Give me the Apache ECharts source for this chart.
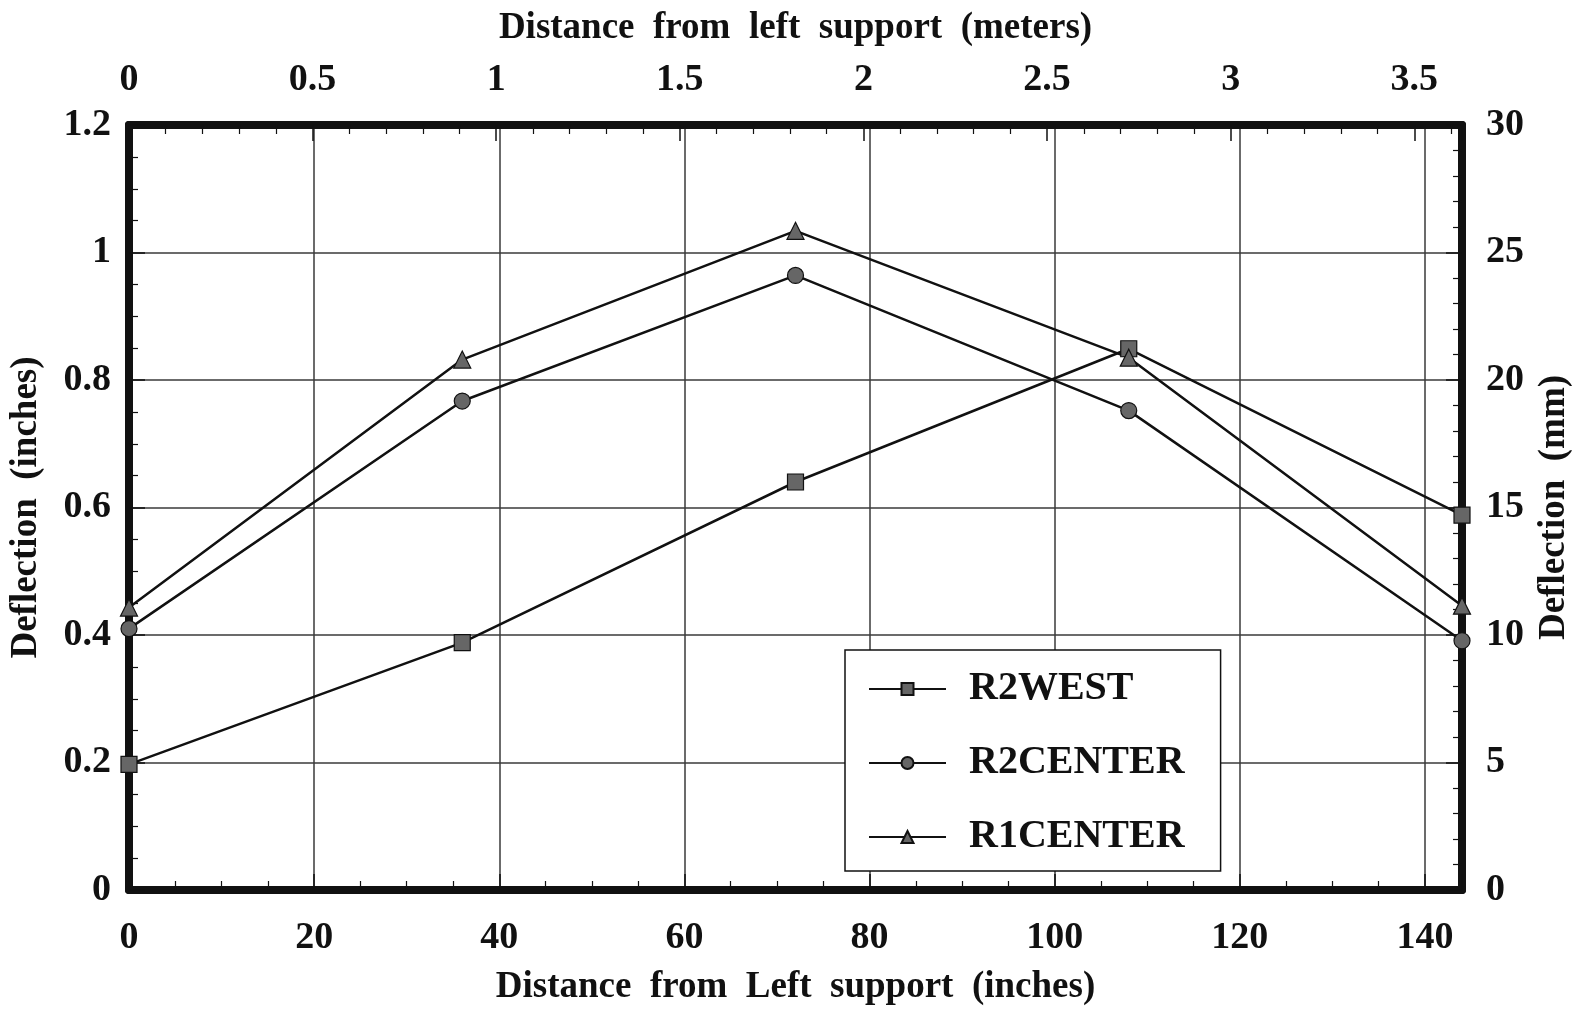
<!DOCTYPE html>
<html>
<head>
<meta charset="utf-8">
<script src="https://cdn.jsdelivr.net/npm/echarts@6/dist/echarts.min.js"></script>
<style>
  html, body { margin: 0; padding: 0; background: #fff; }
  #chart { width: 1581px; height: 1011px; }
</style>
</head>
<body>
<div id="chart"></div>
<script>
// Distance from the left support (inches) for each gauge position
const positions = [0, 36, 72, 108, 144];

// Measured deflections (inches)
const r2West   = [0.197, 0.388, 0.640, 0.849, 0.588];
const r2Center = [0.410, 0.767, 0.964, 0.752, 0.391];
const r1Center = [0.443, 0.832, 1.034, 0.835, 0.446];

const seriesNames = ['R2WEST', 'R2CENTER', 'R1CENTER'];
const seriesSymbols = ['rect', 'circle', 'triangle'];

const FONT = '"Liberation Serif", "Times New Roman", serif';

const pair = (ys) => positions.map((x, i) => [x, ys[i]]);

const tickLabel = { fontFamily: FONT, fontWeight: 'bold', fontSize: 38, color: '#111' };
const nameStyle = { fontFamily: FONT, fontWeight: 'bold', fontSize: 37, color: '#111' };
const frameLine = { show: true, onZero: false, lineStyle: { color: '#111', width: 8 } };
const gridLine = { show: true, lineStyle: { color: '#3a3a3a', width: 1.5 } };
const majorTick = { show: true, inside: true, length: 16, lineStyle: { color: '#111', width: 1.5 } };

function minor(n) {
  return { show: true, splitNumber: n, length: 9, lineStyle: { color: '#111', width: 1.2 } };
}

function makeSeries(name, ys, symbol) {
  return {
    name: name,
    type: 'line',
    data: pair(ys),
    symbol: symbol,
    symbolSize: symbol === 'triangle' ? 17 : 16,
    lineStyle: { color: '#111', width: 2.5 },
    itemStyle: { color: '#666', borderColor: '#111', borderWidth: 1.2 },
    xAxisIndex: 0,
    yAxisIndex: 0,
    z: 5
  };
}

const chart = echarts.init(document.getElementById('chart'), null, { renderer: 'canvas' });

chart.setOption({
  backgroundColor: '#fff',
  animation: false,
  grid: { left: 129, right: 115, top: 125, bottom: 120, containLabel: false },
  xAxis: [
    {
      type: 'value', position: 'bottom', min: 0, max: 144, interval: 20,
      name: 'Distance  from  Left  support  (inches)', nameLocation: 'middle', nameGap: 79,
      nameTextStyle: nameStyle,
      axisLine: frameLine,
      axisTick: majorTick,
      minorTick: minor(4),
      splitLine: gridLine,
      axisLabel: {
        ...tickLabel, margin: 29,
        formatter: (v) => (v % 20 === 0 ? String(v) : '')
      }
    },
    {
      type: 'value', position: 'top', min: 0, max: 3.63, interval: 0.5,
      name: 'Distance  from  left  support  (meters)', nameLocation: 'middle', nameGap: 78,
      nameTextStyle: nameStyle,
      axisLine: frameLine,
      axisTick: majorTick,
      minorTick: minor(5),
      splitLine: { show: false },
      axisLabel: {
        ...tickLabel, margin: 26,
        formatter: (v) => {
          const k = v / 0.5;
          return Math.abs(k - Math.round(k)) < 1e-6 ? String(Math.round(v * 10) / 10) : '';
        }
      }
    }
  ],
  yAxis: [
    {
      type: 'value', position: 'left', min: 0, max: 1.2, interval: 0.2,
      name: 'Deflection  (inches)', nameLocation: 'middle', nameGap: 84, nameRotate: 90,
      nameTextStyle: nameStyle,
      axisLine: frameLine,
      axisTick: majorTick,
      minorTick: minor(4),
      splitLine: gridLine,
      axisLabel: {
        ...tickLabel, margin: 18,
        formatter: (v) => String(Math.round(v * 10) / 10)
      }
    },
    {
      type: 'value', position: 'right', min: 0, max: 30, interval: 5,
      name: 'Deflection  (mm)', nameLocation: 'middle', nameGap: 74, nameRotate: 90,
      nameTextStyle: nameStyle,
      axisLine: frameLine,
      axisTick: majorTick,
      minorTick: minor(5),
      splitLine: { show: false },
      axisLabel: { ...tickLabel, margin: 24 }
    }
  ],
  legend: {
    orient: 'vertical',
    left: 845, top: 650,
    padding: [19, 36, 14, 23],
    itemGap: 34,
    itemWidth: 77, itemHeight: 15,
    backgroundColor: '#fff',
    borderColor: '#111', borderWidth: 1.5,
    textStyle: {
      fontFamily: FONT, fontWeight: 'bold', fontSize: 40, color: '#111',
      padding: [0, 0, 0, 18]
    },
    data: seriesNames
  },
  series: [
    makeSeries(seriesNames[0], r2West, seriesSymbols[0]),
    makeSeries(seriesNames[1], r2Center, seriesSymbols[1]),
    makeSeries(seriesNames[2], r1Center, seriesSymbols[2])
  ]
});
</script>
</body>
</html>
